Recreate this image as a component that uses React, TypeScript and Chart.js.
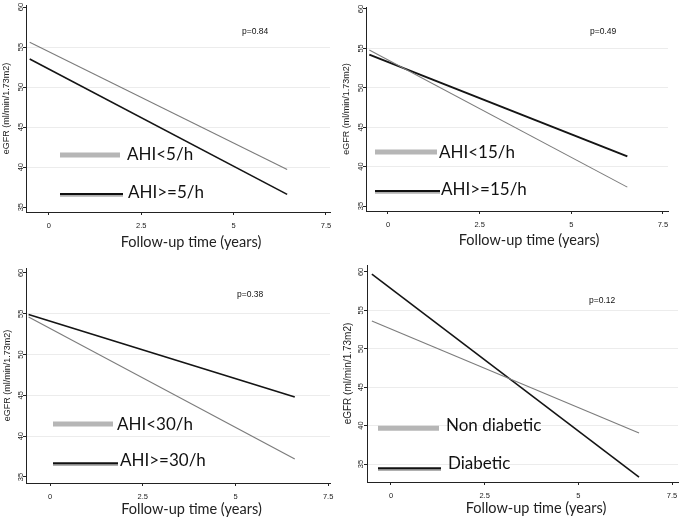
import React, { useEffect, useRef } from "react";
import { Chart, registerables } from "chart.js";

Chart.register(...registerables);

// ---- shared ticks ----
const xTicks = [0, 2.5, 5, 7.5];
const yTicks = [35, 40, 45, 50, 55, 60];

// ---- panel 1: AHI 5 ----
const xEnds1 = [-0.52, 6.45];
const ahiBelow5 = [55.6, 39.7];
const ahiAbove5 = [53.5, 36.6];

// ---- panel 2: AHI 15 ----
const xEnds2 = [-0.51, 6.53];
const ahiBelow15 = [54.8, 37.4];
const ahiAbove15 = [54.2, 41.3];

// ---- panel 3: AHI 30 ----
const xEnds3 = [-0.58, 6.6];
const ahiBelow30 = [54.6, 37.2];
const ahiAbove30 = [54.9, 44.8];

// ---- panel 4: diabetes ----
const xEnds4 = [-0.51, 6.62];
const nonDiabetic = [53.6, 39.05];
const diabetic = [59.7, 33.3];

const pValues = ["p=0.84", "p=0.49", "p=0.38", "p=0.12"];
const legendLabels = [
  ["AHI<5/h", "AHI>=5/h"],
  ["AHI<15/h", "AHI>=15/h"],
  ["AHI<30/h", "AHI>=30/h"],
  ["Non diabetic", "Diabetic"],
];
const xTitle = "Follow-up time (years)";
const yTitle = "eGFR (ml/min/1.73m2)";

const GRAY = "#7c7c7c";
const BLACK = "#141414";
const AXIS = "#222222";
const SANS = '"Liberation Sans", Arial, sans-serif';
const HUMAN = 'Lato, "Open Sans", sans-serif';

type Cfg = {
  left: number; top: number; w: number; h: number;
  area: { l: number; t: number; r: number; b: number };
  xMin: number; xMax: number; yMin: number; yMax: number;
  xEnds: number[]; grayVals: number[]; blackVals: number[];
  blackWidth: number;
  gridVals: number[];
  xTitlePos: { x: number; y: number };
  yTitlePad: number; yTitleSize: number; yTickPad: number;
  p: { text: string; x: number; y: number };
  legend: { label: string; kind: "gray" | "black"; x1: number; x2: number; y: number; tx: number; ty: number }[];
};

const panels: Cfg[] = [
  {
    left: 0, top: 0, w: 340, h: 258,
    area: { l: 26, t: 5, r: 330, b: 212 },
    xMin: -0.62, xMax: 7.61, yMin: 34.4, yMax: 60.25,
    xEnds: xEnds1, grayVals: ahiBelow5, blackVals: ahiAbove5, blackWidth: 1.6,
    gridVals: [40, 45, 50, 55],
    xTitlePos: { x: 191, y: 242 },
    yTitlePad: 1.4, yTitleSize: 9, yTickPad: -2.1,
    p: { text: pValues[0], x: 242, y: 32 },
    legend: [
      { label: legendLabels[0][0], kind: "gray", x1: 60, x2: 120, y: 155, tx: 127, ty: 155 },
      { label: legendLabels[0][1], kind: "black", x1: 60, x2: 123, y: 194, tx: 128, ty: 192.5 },
    ],
  },
  {
    left: 340, top: 0, w: 345, h: 258,
    area: { l: 26, t: 7, r: 328, b: 211 },
    xMin: -0.6, xMax: 7.64, yMin: 34.37, yMax: 60.25,
    xEnds: xEnds2, grayVals: ahiBelow15, blackVals: ahiAbove15, blackWidth: 2,
    gridVals: [40, 45, 50, 55],
    xTitlePos: { x: 189, y: 240.7 },
    yTitlePad: 1.4, yTitleSize: 9, yTickPad: -2.0,
    p: { text: pValues[1], x: 250, y: 32 },
    legend: [
      { label: legendLabels[1][0], kind: "gray", x1: 35, x2: 97, y: 152, tx: 99, ty: 152.5 },
      { label: legendLabels[1][1], kind: "black", x1: 35, x2: 100, y: 191, tx: 101, ty: 189.5 },
    ],
  },
  {
    left: 0, top: 258, w: 340, h: 263,
    area: { l: 26, t: 10, r: 330, b: 225 },
    xMin: -0.65, xMax: 7.55, yMin: 34.26, yMax: 60.6,
    xEnds: xEnds3, grayVals: ahiBelow30, blackVals: ahiAbove30, blackWidth: 1.7,
    gridVals: [40, 45, 50, 55],
    xTitlePos: { x: 191.5, y: 251.3 },
    yTitlePad: 1.9, yTitleSize: 9, yTickPad: -2.0,
    p: { text: pValues[2], x: 237, y: 37 },
    legend: [
      { label: legendLabels[2][0], kind: "gray", x1: 53, x2: 113, y: 166, tx: 117, ty: 166.3 },
      { label: legendLabels[2][1], kind: "black", x1: 53, x2: 118, y: 205.3, tx: 120, ty: 203 },
    ],
  },
  {
    left: 340, top: 258, w: 345, h: 263,
    area: { l: 27, t: 7, r: 338, b: 224 },
    xMin: -0.64, xMax: 7.66, yMin: 32.66, yMax: 60.9,
    xEnds: xEnds4, grayVals: nonDiabetic, blackVals: diabetic, blackWidth: 1.6,
    gridVals: [35, 40, 45, 50, 55],
    xTitlePos: { x: 196, y: 250.3 },
    yTitlePad: 2.5, yTitleSize: 10, yTickPad: -1.5,
    p: { text: pValues[3], x: 249, y: 42.7 },
    legend: [
      { label: legendLabels[3][0], kind: "gray", x1: 38, x2: 99, y: 170.3, tx: 106, ty: 168 },
      { label: legendLabels[3][1], kind: "black", x1: 38, x2: 101, y: 210.3, tx: 108, ty: 205.3 },
    ],
  },
];

function makeAnnotations(cfg: Cfg) {
  return {
    id: "annotate" + cfg.left + "_" + cfg.top,
    afterDatasetsDraw(chart: any) {
      const ctx = chart.ctx as CanvasRenderingContext2D;
      ctx.save();
      ctx.fillStyle = "#111";
      ctx.textAlign = "left";
      ctx.textBaseline = "middle";
      ctx.font = `8.5px ${SANS}`;
      ctx.fillText(cfg.p.text, cfg.p.x, cfg.p.y);
      ctx.lineCap = "butt";
      for (const e of cfg.legend) {
        if (e.kind === "gray") {
          ctx.strokeStyle = "#b6b6b6";
          ctx.lineWidth = 5;
          ctx.beginPath();
          ctx.moveTo(e.x1, e.y);
          ctx.lineTo(e.x2, e.y);
          ctx.stroke();
        } else {
          ctx.strokeStyle = "#b0b0b0";
          ctx.lineWidth = 2;
          ctx.beginPath();
          ctx.moveTo(e.x1, e.y + 1.8);
          ctx.lineTo(e.x2, e.y + 1.8);
          ctx.stroke();
          ctx.strokeStyle = "#111";
          ctx.lineWidth = 2;
          ctx.beginPath();
          ctx.moveTo(e.x1, e.y);
          ctx.lineTo(e.x2, e.y);
          ctx.stroke();
        }
        ctx.fillStyle = "#111";
        ctx.font = `17px ${HUMAN}`;
        ctx.fillText(e.label, e.tx, e.ty);
      }
      // x-axis title (Stata centres it slightly right of the plot centre)
      ctx.fillStyle = "#222";
      ctx.textAlign = "center";
      ctx.font = `14.5px ${HUMAN}`;
      ctx.fillText(xTitle, cfg.xTitlePos.x, cfg.xTitlePos.y);
      ctx.restore();
    },
  };
}

function Panel({ cfg }: { cfg: Cfg }) {
  const ref = useRef<HTMLCanvasElement>(null);
  useEffect(() => {
    let chart: Chart | null = null;
    let cancelled = false;
    const build = () => {
      if (cancelled || !ref.current) return;
      const a = cfg.area;
      const yWidth = a.l;
      const xHeight = cfg.h - a.b;
      chart = new Chart(ref.current, {
        type: "line",
        data: {
          datasets: [
            {
              data: cfg.xEnds.map((x, i) => ({ x, y: cfg.grayVals[i] })),
              borderColor: GRAY,
              borderWidth: 1.1,
              pointRadius: 0,
              tension: 0,
              fill: false,
            },
            {
              data: cfg.xEnds.map((x, i) => ({ x, y: cfg.blackVals[i] })),
              borderColor: BLACK,
              borderWidth: cfg.blackWidth,
              pointRadius: 0,
              tension: 0,
              fill: false,
            },
          ],
        },
        options: {
          responsive: false,
          animation: false,
          devicePixelRatio: 1,
          layout: {
            autoPadding: false,
            padding: { left: 0, top: a.t, right: cfg.w - a.r, bottom: 0 },
          },
          plugins: { legend: { display: false }, tooltip: { enabled: false } },
          scales: {
            x: {
              type: "linear",
              min: cfg.xMin,
              max: cfg.xMax,
              afterBuildTicks: (s: any) => {
                s.ticks = xTicks.map((v) => ({ value: v }));
              },
              afterFit: (s: any) => {
                s.height = xHeight;
              },
              grid: {
                display: true,
                drawOnChartArea: false,
                drawTicks: true,
                tickLength: 3,
                tickColor: AXIS,
              },
              border: { display: true, color: AXIS, width: 1 },
              ticks: {
                autoSkip: false,
                maxRotation: 0,
                minRotation: 0,
                padding: 6,
                color: "#222",
                font: { family: SANS, size: 7.5 },
              },
              title: { display: false },
            },
            y: {
              type: "linear",
              min: cfg.yMin,
              max: cfg.yMax,
              afterBuildTicks: (s: any) => {
                s.ticks = yTicks.map((v) => ({ value: v }));
              },
              afterFit: (s: any) => {
                s.width = yWidth;
              },
              grid: {
                display: true,
                drawOnChartArea: true,
                drawTicks: true,
                tickLength: 3,
                lineWidth: 1,
                color: (c: any) =>
                  c.tick && cfg.gridVals.includes(c.tick.value) ? "#ececec" : "rgba(0,0,0,0)",
                tickColor: AXIS,
              },
              border: { display: true, color: AXIS, width: 1 },
              ticks: {
                autoSkip: false,
                minRotation: 90,
                maxRotation: 90,
                crossAlign: "center",
                padding: cfg.yTickPad,
                color: "#222",
                font: { family: SANS, size: 7.5 },
              },
              title: {
                display: true,
                text: yTitle,
                color: "#222",
                font: { family: SANS, size: cfg.yTitleSize },
                padding: { top: cfg.yTitlePad, bottom: 0 },
              },
            },
          },
        } as any,
        plugins: [makeAnnotations(cfg)],
      });
    };
    const fontsReady = (document as any).fonts
      ? Promise.all([
          (document as any).fonts.load("17px Lato"),
          (document as any).fonts.load('8px "Liberation Sans"'),
        ]).catch(() => null)
      : Promise.resolve(null);
    fontsReady.then(build);
    return () => {
      cancelled = true;
      if (chart) chart.destroy();
    };
  }, [cfg]);
  return (
    <canvas
      ref={ref}
      width={cfg.w}
      height={cfg.h}
      style={{ position: "absolute", left: cfg.left, top: cfg.top, width: cfg.w, height: cfg.h }}
    />
  );
}

export default function App() {
  return (
    <div style={{ position: "absolute", left: 0, top: 0, width: 685, height: 521, background: "#fff" }}>
      {panels.map((p, i) => (
        <Panel key={i} cfg={p} />
      ))}
    </div>
  );
}
